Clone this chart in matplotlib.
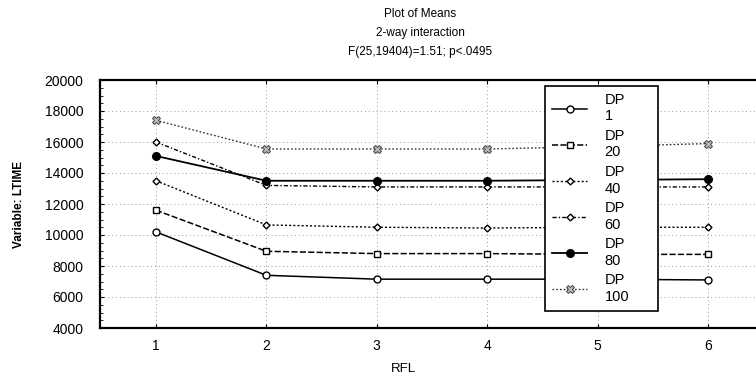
import matplotlib
matplotlib.use('Agg')
import matplotlib.pyplot as plt
from matplotlib.ticker import MultipleLocator

plt.rcParams['font.family'] = ['Liberation Sans', 'DejaVu Sans']

# means of LTIME by RFL level for each DP group
rfl = [1, 2, 3, 4, 5, 6]
dp1 = [10200, 7400, 7150, 7150, 7150, 7100]
dp20 = [11600, 8950, 8800, 8800, 8750, 8750]
dp40 = [13500, 10650, 10500, 10450, 10500, 10500]
dp60 = [16000, 13200, 13100, 13100, 13100, 13100]
dp80 = [15100, 13500, 13500, 13500, 13550, 13600]
dp100 = [17400, 15550, 15550, 15550, 15700, 15900]

labels = ['DP\n1', 'DP\n20', 'DP\n40', 'DP\n60', 'DP\n80', 'DP\n100']
y_ticks = [4000, 6000, 8000, 10000, 12000, 14000, 16000, 18000, 20000]

fig = plt.figure(figsize=(7.56, 3.74), dpi=100)
ax = fig.add_axes([100/756, 1 - 328/374, 1 - 100/756, (328 - 80)/374])

ax.plot(rfl, dp1, color='black', lw=1.1, ls='-', marker='o', ms=5,
        mfc='white', mec='black', label=labels[0])
ax.plot(rfl, dp20, color='black', lw=1.1, ls=(0, (4, 1.5)), marker='s', ms=5,
        mfc='white', mec='black', label=labels[1])
ax.plot(rfl, dp40, color='black', lw=1.0, ls=(0, (1.5, 1.5)), marker='D', ms=3.5,
        mfc='white', mec='black', label=labels[2])
ax.plot(rfl, dp60, color='black', lw=1.0, ls=(0, (3, 1.5, 1, 1.5)), marker='D', ms=3.5,
        mfc='white', mec='black', label=labels[3])
ax.plot(rfl, dp80, color='black', lw=1.3, ls='-', marker='o', ms=5.5,
        mfc='black', mec='black', label=labels[4])
ax.plot(rfl, dp100, color='#333333', lw=1.0, ls=(0, (1.2, 1.5)), marker='X', ms=6,
        mfc='#bbbbbb', mec='#444444', mew=0.7, label=labels[5])

ax.set_xlim(0.493, 6.435)
ax.set_ylim(4000, 20000)
ax.set_xticks(rfl)
ax.set_yticks(y_ticks)
ax.yaxis.set_minor_locator(MultipleLocator(500))
ax.tick_params(direction='in', top=True, length=3, labelsize=10, pad=8)
ax.tick_params(axis='y', pad=12)
ax.tick_params(which='minor', direction='in', length=2)
ax.grid(True, ls=(0, (1, 3)), color='#999999', lw=0.7)
for side in ['left', 'bottom', 'top']:
    ax.spines[side].set_linewidth(1.6)
ax.spines['right'].set_visible(False)

ax.set_xlabel('RFL', fontsize=9.5)
ax.xaxis.set_label_coords(0.462, -0.141)
ax.set_ylabel('Variable: LTIME', fontsize=8.5, fontweight='bold')
ax.yaxis.set_label_coords(-0.115, 0.5)

leg = ax.legend(loc='upper left', bbox_to_anchor=(0.678, 0.073, 0.172, 0.903),
                mode='expand', fontsize=10.5,
                frameon=True, fancybox=False, edgecolor='black', framealpha=1,
                handlelength=2.4, handletextpad=1.2, labelspacing=0.4,
                borderpad=0.5, borderaxespad=0)
leg.get_frame().set_linewidth(1.2)

fig.text(420/756, 1 - 14/374, 'Plot of Means', ha='center', va='center', fontsize=8.5)
fig.text(420/756, 1 - 33/374, '2-way interaction', ha='center', va='center', fontsize=8.5)
fig.text(420/756, 1 - 52/374, 'F(25,19404)=1.51; p<.0495', ha='center', va='center', fontsize=8.5)

fig.savefig('out.png', dpi=100)
